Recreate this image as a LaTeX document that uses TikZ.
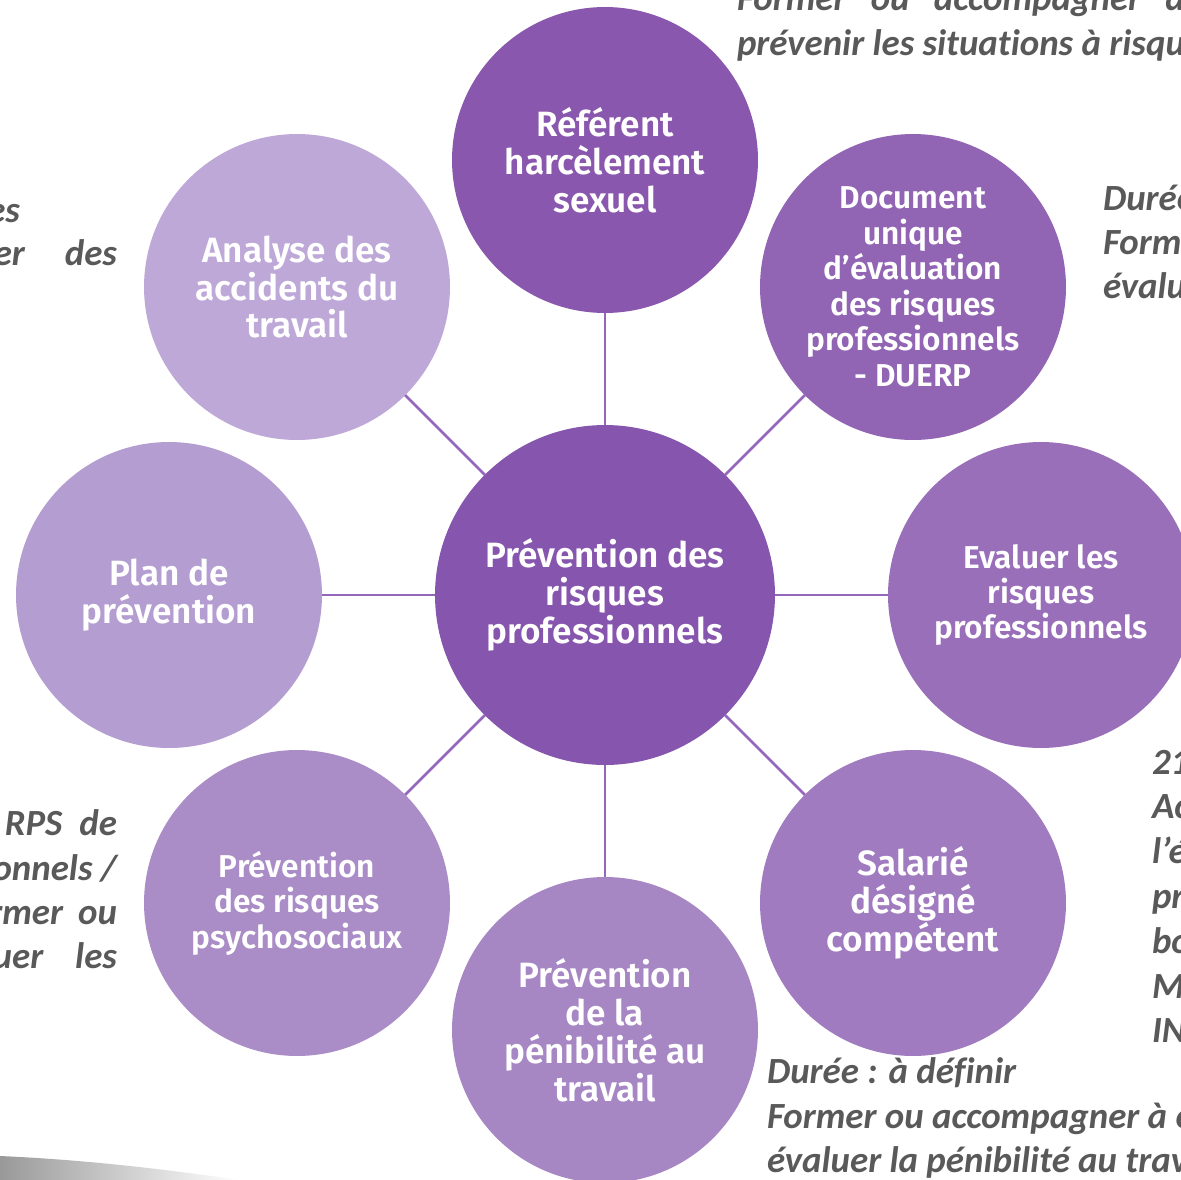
\documentclass[tikz,border=0pt]{standalone}
\usepackage{fontspec}
\usepackage{xcolor}
\usepackage{tikz}
\setsansfont{Fira Sans}[BoldFont={Fira Sans SemiBold}]
\newfontfamily\notefont{Carlito}[Ligatures=NoCommon]
\definecolor{hubfill}{RGB}{134,85,173}
\definecolor{reffill}{RGB}{138,87,174}
\definecolor{duerpfill}{RGB}{146,100,180}
\definecolor{evalfill}{RGB}{154,111,186}
\definecolor{sdcfill}{RGB}{160,123,191}
\definecolor{penibfill}{RGB}{166,135,196}
\definecolor{rpsfill}{RGB}{170,140,199}
\definecolor{planfill}{RGB}{180,157,208}
\definecolor{accfill}{RGB}{190,168,215}
\definecolor{linkcol}{RGB}{148,103,189}
\definecolor{notegray}{RGB}{89,89,89}
\tikzset{
  spoke/.style={
    circle, minimum size=6.12cm, inner sep=0pt, outer sep=0pt,
    align=center, text=white, font=\sffamily\bfseries\fontsize{20}{21.6}\selectfont
  },
  spoke small/.style={spoke, font=\sffamily\bfseries\fontsize{18}{20.2}\selectfont},
  hub/.style={spoke, minimum size=6.8cm},
  link/.style={draw=linkcol, line width=1.5pt},
  note/.style={inner sep=0pt, outer sep=0pt, text=notegray,
    font=\notefont\bfseries\itshape\fontsize{21}{25}\selectfont},
}
\begin{document}
\begin{tikzpicture}[x=0.02cm, y=-0.02cm]
  \useasboundingbox (0,0) rectangle (1181,1180);
  \clip (0,0) rectangle (1181,1180);
  \fill[white] (0,0) rectangle (1181,1180);
  \shade[left color=gray!80, right color=white] (0,1156) .. controls (90,1160) and (170,1170) .. (240,1180) -- (0,1180) -- cycle;

  \node[hub, fill=hubfill] (hub) at (605,595) {Prévention des\\risques\\professionnels};
  \node[spoke, fill=reffill] (ref) at (605,160) {Référent\\harcèlement\\sexuel};
  \node[spoke small, fill=duerpfill] (duerp) at (913,287) {Document\\unique\\d’évaluation\\des risques\\professionnels\\- DUERP};
  \node[spoke small, fill=evalfill] (eval) at (1041,595) {Evaluer les\\risques\\professionnels};
  \node[spoke, fill=sdcfill] (sdc) at (913,903) {Salarié\\désigné\\compétent};
  \node[spoke, fill=penibfill] (penib) at (605,1030) {Prévention\\de la\\pénibilité au\\travail};
  \node[spoke small, fill=rpsfill] (rps) at (297,903) {Prévention\\des risques\\psychosociaux};
  \node[spoke, fill=planfill] (plan) at (169,595) {Plan de\\prévention};
  \node[spoke, fill=accfill] (acc) at (297,287) {Analyse des\\accidents du\\travail};

  \foreach \n in {ref,duerp,eval,sdc,penib,rps,plan,acc}
    \draw[link] (hub) -- (\n);

  \node[note, anchor=base west] (topa) at (737,10) {\makebox[8.96cm][s]{Former ou accompagner à}};
  \node[note, anchor=base west] (topb) at (737,55) {prévenir les situations à risques};

  \node[note, anchor=base east] (lefta) at (20,222) {es};
  \node[note, anchor=base east] (leftb) at (117,265) {er\hspace{0.8cm}des};

  \node[note, anchor=base west] (righta) at (1103,210) {Durée};
  \node[note, anchor=base west] (rightb) at (1103,254) {Form};
  \node[note, anchor=base west] (rightc) at (1103,298) {évalu};

  \node[note, anchor=base east] (rpsa) at (117,835) {RPS\hspace{0.34cm}de};
  \node[note, anchor=base east] (rpsb) at (117,880) {onnels /};
  \node[note, anchor=base east] (rpsc) at (117,924) {rmer\hspace{0.3cm}ou};
  \node[note, anchor=base east] (rpsd) at (117,968) {uer\hspace{0.64cm}les};

  \node[note, anchor=base west] (sdca) at (1152,774) {21};
  \node[note, anchor=base west] (sdcb) at (1152,818) {Ac};
  \node[note, anchor=base west] (sdcc) at (1152,863) {l’é};
  \node[note, anchor=base west] (sdcd) at (1152,908) {pr};
  \node[note, anchor=base west] (sdce) at (1152,953) {bo};
  \node[note, anchor=base west] (sdcf) at (1152,998) {M};
  \node[note, anchor=base west] (sdcg) at (1152,1042) {IN};

  \node[note, anchor=base west] (bota) at (767,1083) {Durée : à définir};
  \node[note, anchor=base west] (botb) at (767,1128) {Former ou accompagner à é};
  \node[note, anchor=base west] (botc) at (767,1172) {évaluer la pénibilité au travail};
\end{tikzpicture}
\end{document}
